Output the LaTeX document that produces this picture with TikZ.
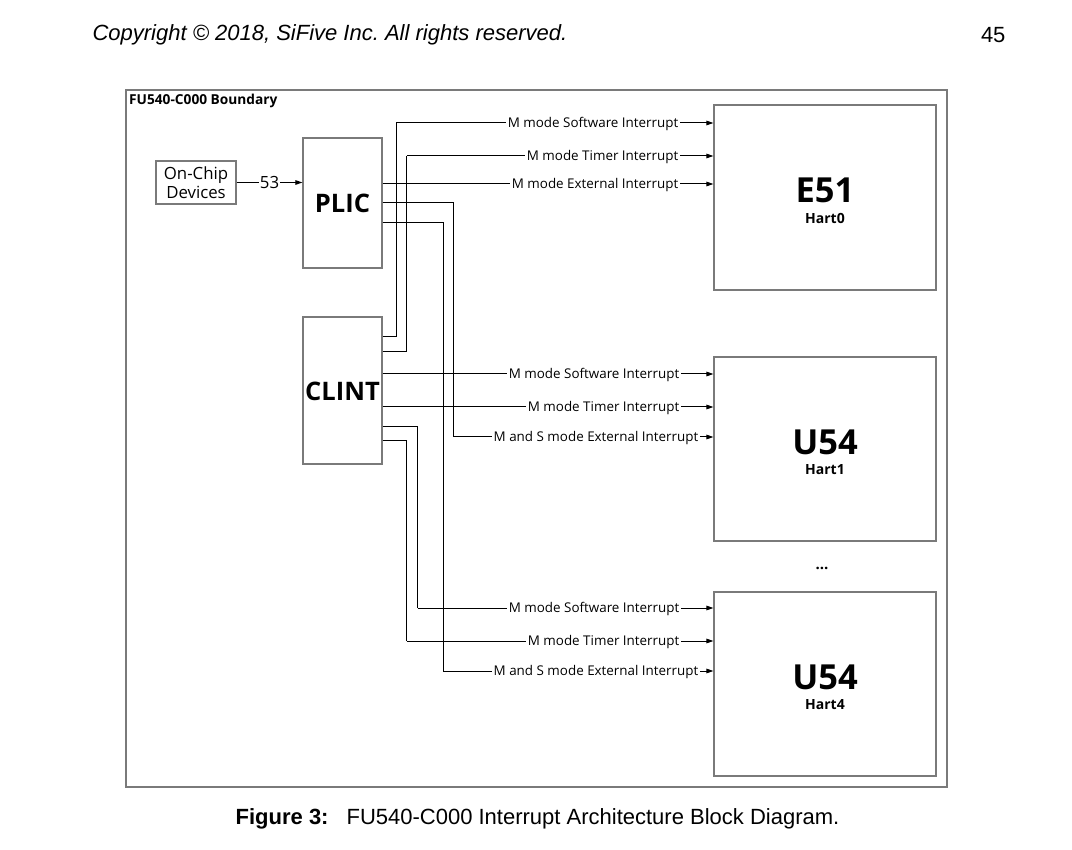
\documentclass[tikz,border=0pt]{standalone}
\usepackage{fontspec}
\setmainfont{Open Sans}
\newfontfamily\arialfont{Liberation Sans}
\usetikzlibrary{arrows.meta}
\definecolor{boxgray}{HTML}{7A7A7A}
\frenchspacing
\tikzset{
  blk/.style={draw=boxgray, line width=1.1pt, inner sep=0pt},
  sig/.style={line width=1pt, black},
  arr/.style={sig, -{Triangle[length=7pt,width=4.5pt]}},
  lbl/.style={fill=white, inner xsep=1.5pt, inner ysep=1pt, font=\fontsize{13.4}{15}\selectfont},
  big/.style={font=\bfseries\fontsize{25.5}{30}\selectfont},
  core/.style={font=\bfseries\fontsize{34.5}{40}\selectfont},
  hart/.style={font=\bfseries\fontsize{14}{16}\selectfont},
}
\begin{document}
\begin{tikzpicture}[x=1pt,y=-1pt]
\useasboundingbox (0,0) rectangle (1072,850);

% header and caption
\node[anchor=west, font=\arialfont\itshape\fontsize{22}{24}\selectfont] (hdr) at (89,35) {Copyright © 2018, SiFive Inc. All rights reserved.};
\node[anchor=east, font=\arialfont\fontsize{22}{24}\selectfont] (pg) at (1009,35) {45};
\node[font=\arialfont\fontsize{22}{24}\selectfont] (cap) at (537.5,819) {\textbf{Figure 3:}\hspace{18pt}FU540-C000 Interrupt Architecture Block Diagram.};

% boundary
\node[blk, minimum width=821pt, minimum height=697pt] (bnd) at (536.5,438.5) {};
\node[anchor=north west, inner sep=0pt, font=\bfseries\fontsize{13.7}{15}\selectfont] (bndl) at (129,94) {FU540-C000 Boundary};

% blocks
\node[blk, minimum width=80pt, minimum height=43pt, align=center, font=\fontsize{16.8}{19.5}\selectfont] (ocd) at (196,182.5) {On-Chip\\Devices};
\node[blk, minimum width=79pt, minimum height=130pt] (plic) at (342.5,203) {};
\node[big] (plict) at (342.5,203) {PLIC};
\node[blk, minimum width=79pt, minimum height=147pt] (clint) at (342.5,390.5) {};
\node[big] (clintt) at (342.5,391) {CLINT};

\node[blk, minimum width=222pt, minimum height=185pt] (e51) at (825,197.5) {};
\node[core] (e51t) at (825,190) {E51};
\node[hart] (e51h) at (825,218) {Hart0};
\node[blk, minimum width=222pt, minimum height=184pt] (h1) at (825,449) {};
\node[core] (h1t) at (825,442) {U54};
\node[hart] (h1h) at (825,470) {Hart1};
\node[blk, minimum width=222pt, minimum height=184pt] (h4) at (825,684) {};
\node[core] (h4t) at (825,677) {U54};
\node[hart] (h4h) at (825,705) {Hart4};
\node[font=\bfseries\fontsize{15}{16}\selectfont] (dots) at (822,568) {...};

% level coordinates
\coordinate (yA) at (0,123);
\coordinate (yB) at (0,156);
\coordinate (yC) at (0,184);
\coordinate (yD) at (0,374);
\coordinate (yE) at (0,407);
\coordinate (yF) at (0,437);
\coordinate (yG) at (0,608);
\coordinate (yH) at (0,641);
\coordinate (yI) at (0,671);
\coordinate (p2) at (0,203);
\coordinate (p3) at (0,223);
\coordinate (c1) at (0,337);
\coordinate (c2) at (0,352);
\coordinate (c5) at (0,427);
\coordinate (c6) at (0,441);
\coordinate (v1) at (396,0);
\coordinate (v2) at (406.5,0);
\coordinate (v3) at (417.5,0);
\coordinate (v4) at (443,0);
\coordinate (v5) at (453.5,0);

% on-chip -> plic
\draw[arr] (ocd.east) -- node[fill=white, inner xsep=1pt, inner ysep=0pt, font=\fontsize{16.8}{19}\selectfont] (n53) {53} (plic.west |- ocd.east);

% PLIC outputs
\draw[arr] (plic.east |- yC) -- (e51.west |- yC);
\draw[sig] (plic.east |- p2) -| (v5 |- yF);
\draw[arr] (v5 |- yF) -- (h1.west |- yF);
\draw[sig] (plic.east |- p3) -| (v4 |- yI);
\draw[arr] (v4 |- yI) -- (h4.west |- yI);

% CLINT outputs
\draw[sig] (clint.east |- c1) -| (v1 |- yA);
\draw[arr] (v1 |- yA) -- (e51.west |- yA);
\draw[sig] (clint.east |- c2) -| (v2 |- yB);
\draw[arr] (v2 |- yB) -- (e51.west |- yB);
\draw[arr] (clint.east |- yD) -- (h1.west |- yD);
\draw[arr] (clint.east |- yE) -- (h1.west |- yE);
\draw[sig] (clint.east |- c5) -| (v3 |- yG);
\draw[arr] (v3 |- yG) -- (h4.west |- yG);
\draw[sig] (clint.east |- c6) -| (v2 |- yH);
\draw[arr] (v2 |- yH) -- (h4.west |- yH);

% labels
\node[lbl, anchor=east] (lA) at (680,124) {M mode Software Interrupt};
\node[lbl, anchor=east] (lB) at (680,157) {M mode Timer Interrupt};
\node[lbl, anchor=east] (lC) at (680,185) {M mode External Interrupt};
\node[lbl, anchor=east] (lD) at (681,375) {M mode Software Interrupt};
\node[lbl, anchor=east] (lE) at (681,408) {M mode Timer Interrupt};
\node[lbl, anchor=east] (lF) at (700,438) {M and S mode External Interrupt};
\node[lbl, anchor=east] (lG) at (681,609) {M mode Software Interrupt};
\node[lbl, anchor=east] (lH) at (681,642) {M mode Timer Interrupt};
\node[lbl, anchor=east] (lI) at (700,672) {M and S mode External Interrupt};
\end{tikzpicture}
\end{document}
